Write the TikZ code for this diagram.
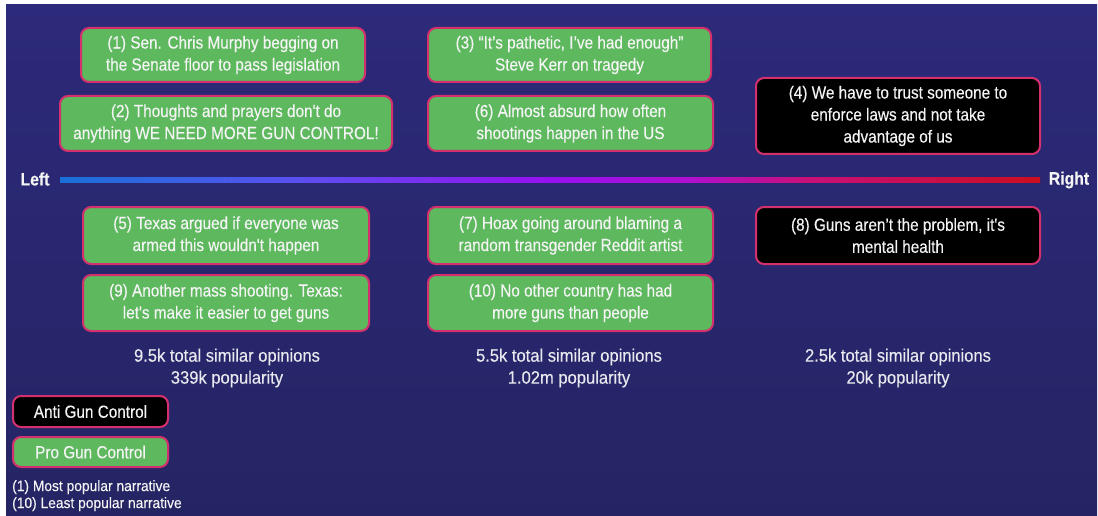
\documentclass[tikz,border=0pt]{standalone}
\usepackage{fontspec}
\setmainfont{Liberation Sans}[FakeStretch=0.875,FakeBold=0.3,Ligatures=TeXOff]
\newfontfamily\statfont{Liberation Sans}[FakeStretch=0.92,FakeBold=0.3,Ligatures=TeXOff]
\newfontfamily\notefont{Liberation Sans}[FakeStretch=0.92,FakeBold=0.3,Ligatures=TeXOff]
\definecolor{bgtop}{HTML}{2C2A7A}
\definecolor{bgbot}{HTML}{252463}
\definecolor{boxgreen}{HTML}{5DB85E}
\definecolor{boxborder}{HTML}{D4306E}
\definecolor{txt}{HTML}{F4F4F4}
\definecolor{stattxt}{HTML}{E8E8EE}
\definecolor{lbA}{HTML}{1A70D8}
\definecolor{lbB}{HTML}{5A50F0}
\definecolor{lbC}{HTML}{9810F0}
\definecolor{lbD}{HTML}{B010D0}
\definecolor{lbE}{HTML}{C8107A}
\definecolor{lbF}{HTML}{CC0E20}
\pgfdeclarehorizontalshading{axisgrad}{100bp}{color(0bp)=(lbA); color(25bp)=(lbA); color(37bp)=(lbB); color(50bp)=(lbC); color(57bp)=(lbD); color(63bp)=(lbE); color(75bp)=(lbF); color(100bp)=(lbF)}
\tikzset{
  opinion/.style={draw=boxborder, line width=2pt, rounded corners=8pt, text=txt, align=center,
    font=\fontsize{17.5}{22}\selectfont, inner sep=0pt},
  pro/.style={opinion, fill=boxgreen},
  anti/.style={opinion, fill=black},
  stat/.style={text=stattxt, align=center, font=\statfont\fontsize{18}{22}\selectfont},
  endlabel/.style={text=txt, font=\fontsize{18}{20}\bfseries\selectfont},
  note/.style={text=txt, align=left, anchor=north west, font=\notefont\fontsize{15}{17}\selectfont, inner sep=0pt}
}
\begin{document}
\begin{tikzpicture}[x=1pt,y=-1pt]
\useasboundingbox (0,0) rectangle (1098,516);
\fill[white] (0,0) rectangle (1098,516);
\shade[top color=bgtop, bottom color=bgbot] (6,5) rectangle (1097,515);
% axis
\shade[shading=axisgrad] (60,177.5) rectangle (1040,182.5);
\node[endlabel] (left) at (35,179) {Left};
\node[endlabel] (right) at (1069,180) {Right};
% opinions
\node[pro, minimum width=284pt, minimum height=54pt] (b1) at (223,55) {(1) Sen. Chris Murphy begging on\\the Senate floor to pass legislation};
\node[pro, minimum width=332pt, minimum height=55pt] (b2) at (226,123.5) {(2) Thoughts and prayers don't do\\anything WE NEED MORE GUN CONTROL!};
\node[pro, minimum width=283pt, minimum height=54pt] (b3) at (569.5,55) {(3) “It’s pathetic, I’ve had enough”\\Steve Kerr on tragedy};
\node[pro, minimum width=285pt, minimum height=55pt] (b6) at (570.5,123.5) {(6) Almost absurd how often\\shootings happen in the US};
\node[anti, minimum width=284pt, minimum height=76pt] (b4) at (898,116) {(4) We have to trust someone to\\enforce laws and not take\\advantage of us};
\node[pro, minimum width=286pt, minimum height=57pt] (b5) at (226,235.5) {(5) Texas argued if everyone was\\armed this wouldn't happen};
\node[pro, minimum width=285pt, minimum height=57pt] (b7) at (570.5,235.5) {(7) Hoax going around blaming a\\random transgender Reddit artist};
\node[anti, minimum width=284pt, minimum height=57pt] (b8) at (898,235.5) {(8) Guns aren’t the problem, it's\\mental health};
\node[pro, minimum width=286pt, minimum height=56pt] (b9) at (226,303) {(9) Another mass shooting. Texas:\\let's make it easier to get guns};
\node[pro, minimum width=285pt, minimum height=56pt] (b10) at (570.5,303) {(10) No other country has had\\more guns than people};
% stats
\node[stat] (s1) at (227,368) {9.5k total similar opinions\\339k popularity};
\node[stat] (s2) at (569,368) {5.5k total similar opinions\\1.02m popularity};
\node[stat] (s3) at (898,368) {2.5k total similar opinions\\20k popularity};
% legend
\node[anti, minimum width=155pt, minimum height=31pt] (la) at (90.5,411.5) {Anti Gun Control};
\node[pro, minimum width=155pt, minimum height=30pt] (lp) at (90.5,452) {Pro Gun Control};
\node[note] (n) at (12,480) {(1) Most popular narrative\\(10) Least popular narrative};
\end{tikzpicture}
\end{document}
